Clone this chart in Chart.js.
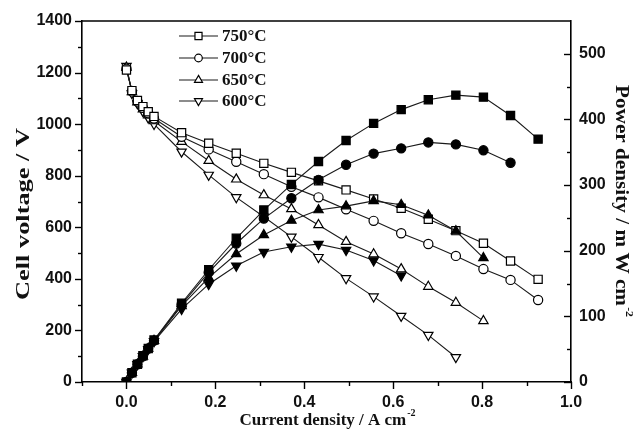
<!DOCTYPE html>
<html>
<head>
<meta charset="utf-8">
<script src="https://cdn.jsdelivr.net/npm/chart.js@4.4.1/dist/chart.umd.min.js"></script>
<style>
  html, body { margin: 0; padding: 0; background: #ffffff; }
  #wrap { width: 638px; height: 434px; position: relative; }
</style>
</head>
<body>
<div id="wrap"><canvas id="c" width="638" height="434"></canvas></div>
<script>
// ---- Data ----
const currentDensity = [0, 0.0123, 0.0247, 0.037, 0.049, 0.062, 0.124, 0.185, 0.247, 0.309, 0.371, 0.432, 0.494, 0.556, 0.618, 0.679, 0.741, 0.803, 0.864, 0.926];

const legendLabels = ['750°C', '700°C', '650°C', '600°C'];

const voltage750 = [1210, 1130, 1092, 1068, 1048, 1030, 967, 926, 887, 848, 813, 780, 745, 710, 674, 631, 587, 538, 469, 398];
const voltage700 = [1215, 1127, 1088, 1063, 1042, 1022, 951, 902, 854, 806, 757, 716, 670, 625, 577, 535, 489, 438, 396, 318];
const voltage650 = [1220, 1125, 1085, 1058, 1035, 1012, 932, 858, 786, 725, 671, 609, 544, 496, 438, 370, 308, 237];
const voltage600 = [1225, 1120, 1080, 1050, 1025, 1000, 893, 803, 716, 641, 563, 484, 402, 331, 256, 182, 96];

const power750 = [0, 14, 27, 40, 51, 64, 120, 171, 219, 262, 301, 336, 368, 394, 415, 430, 437, 434, 406, 370];
const power700 = [0, 14, 27, 39, 51, 63, 118, 167, 211, 249, 280, 308, 331, 348, 356, 365, 362, 353, 334];
const power650 = [0, 14, 27, 39, 51, 63, 116, 159, 195, 224, 246, 262, 268, 276, 270, 254, 230, 189];
const power600 = [0, 14, 27, 39, 50, 62, 111, 149, 177, 198, 206, 210, 201, 185, 162];

const xTitle = 'Current density / A cm';
const yTitle = 'Cell voltage / V';
const y2Title = 'Power density / m W cm';
const unitSup = '-2';

// ---- helpers ----
function pts(ys) { return ys.map((v, i) => ({ x: currentDensity[i], y: v })); }

const markerDefs = [
  { style: 'rect', radius: 5.8, rotation: 0 },
  { style: 'circle', radius: 4.6, rotation: 0 },
  { style: 'triangle', radius: 5.4, rotation: 0 },
  { style: 'triangle', radius: 5.4, rotation: 180 }
];

const LINE = '#1a1a1a';

function mkSet(label, data, m, filled, axis) {
  return {
    label: label,
    data: pts(data),
    yAxisID: axis,
    borderColor: LINE,
    borderWidth: 1.1,
    pointStyle: m.style,
    pointRadius: m.radius,
    pointHoverRadius: m.radius,
    pointRotation: m.rotation,
    pointBackgroundColor: filled ? '#000000' : '#ffffff',
    pointBorderColor: '#000000',
    pointBorderWidth: 1.2,
    fill: false,
    tension: 0,
    order: filled ? 0 : 1
  };
}

const datasets = [
  mkSet(legendLabels[0], voltage750, markerDefs[0], false, 'y'),
  mkSet(legendLabels[1], voltage700, markerDefs[1], false, 'y'),
  mkSet(legendLabels[2], voltage650, markerDefs[2], false, 'y'),
  mkSet(legendLabels[3], voltage600, markerDefs[3], false, 'y'),
  mkSet(legendLabels[0] + ' P', power750, markerDefs[0], true, 'y2'),
  mkSet(legendLabels[1] + ' P', power700, markerDefs[1], true, 'y2'),
  mkSet(legendLabels[2] + ' P', power650, markerDefs[2], true, 'y2'),
  mkSet(legendLabels[3] + ' P', power600, markerDefs[3], true, 'y2')
];

const TICK_FONT = { family: '"Liberation Sans", Arial, sans-serif', size: 16, weight: 'bold' };
const TITLE_FONT = 'bold 17px "Liberation Serif", "Times New Roman", serif';
const SIDE_FONT = 'bold 18px "Liberation Serif", "Times New Roman", serif';
const SUP_FONT = 'bold 10px "Liberation Serif", "Times New Roman", serif';

// Frame, tick marks, legend and axis titles
const decorPlugin = {
  id: 'decor',
  afterDraw(chart) {
    const ctx = chart.ctx;
    const a = chart.chartArea;
    const sx = chart.scales.x, sy = chart.scales.y, sy2 = chart.scales.y2;
    ctx.save();
    ctx.strokeStyle = '#000';
    ctx.lineWidth = 1.6;
    // top border
    ctx.beginPath();
    ctx.moveTo(a.left, a.top); ctx.lineTo(a.right, a.top);
    ctx.stroke();
    ctx.lineWidth = 1.4;
    // left ticks (outward)
    sy.ticks.forEach(t => {
      const y = Math.round(sy.getPixelForValue(t.value)) + 0.5;
      const len = (Math.round(t.value) % 200 === 0) ? 7 : 4;
      ctx.beginPath(); ctx.moveTo(a.left - len, y); ctx.lineTo(a.left, y); ctx.stroke();
    });
    // right ticks (inward)
    sy2.ticks.forEach(t => {
      if (t.value >= 550) return;
      const y = Math.round(sy2.getPixelForValue(t.value)) + 0.5;
      const len = (Math.round(t.value) % 100 === 0) ? 7 : 4;
      ctx.beginPath(); ctx.moveTo(a.right - len, y); ctx.lineTo(a.right, y); ctx.stroke();
    });
    // bottom ticks (outward)
    sx.ticks.forEach(t => {
      const x = Math.round(sx.getPixelForValue(t.value)) + 0.5;
      const k = Math.round(t.value * 10);
      const len = (k % 2 === 0) ? 7 : 4;
      ctx.beginPath(); ctx.moveTo(x, a.bottom); ctx.lineTo(x, a.bottom + len); ctx.stroke();
    });

    // legend
    const lx0 = 179, lx1 = 218, mx = 198.5, tx = 222;
    const ly = [36, 58, 80, 101];
    ctx.textBaseline = 'middle';
    ctx.textAlign = 'left';
    legendLabels.forEach((lab, i) => {
      const y = ly[i];
      ctx.strokeStyle = LINE; ctx.lineWidth = 1.1;
      ctx.beginPath(); ctx.moveTo(lx0, y); ctx.lineTo(lx1, y); ctx.stroke();
      ctx.fillStyle = '#ffffff'; ctx.strokeStyle = '#000'; ctx.lineWidth = 1.2;
      const m = markerDefs[i];
      Chart.helpers.drawPoint(ctx, { pointStyle: m.style, radius: m.radius - 0.8, rotation: m.rotation, borderWidth: 1.2 }, mx, y);
      ctx.fillStyle = '#111';
      ctx.font = TITLE_FONT;
      ctx.fillText(lab, tx, y + 1);
    });

    // bottom title with superscript
    ctx.fillStyle = '#111';
    ctx.font = TITLE_FONT;
    ctx.textBaseline = 'alphabetic';
    const wMain = ctx.measureText(xTitle).width;
    ctx.font = SUP_FONT;
    const wSup = ctx.measureText(unitSup).width;
    let bx = 327 - (wMain + wSup) / 2;
    ctx.font = TITLE_FONT;
    ctx.fillText(xTitle, bx, 425);
    ctx.font = SUP_FONT;
    ctx.fillText(unitSup, bx + wMain + 1, 416);

    // left title (rotated -90), stretched along its length like the reference
    ctx.save();
    ctx.translate(29, 214);
    ctx.rotate(-Math.PI / 2);
    ctx.font = SIDE_FONT;
    const wl = ctx.measureText(yTitle).width;
    ctx.scale(172 / wl, 1);
    ctx.textAlign = 'center';
    ctx.fillText(yTitle, 0, 0);
    ctx.restore();

    // right title (rotated +90)
    ctx.save();
    ctx.translate(616, 201);
    ctx.rotate(Math.PI / 2);
    ctx.font = SIDE_FONT;
    const w2 = ctx.measureText(y2Title).width;
    ctx.font = SUP_FONT;
    const w2s = ctx.measureText(unitSup).width;
    const tot = w2 + w2s + 1;
    ctx.scale(232 / tot, 1);
    const sx0 = -tot / 2;
    ctx.textAlign = 'left';
    ctx.font = SIDE_FONT;
    ctx.fillText(y2Title, sx0, 0);
    ctx.font = SUP_FONT;
    ctx.fillText(unitSup, sx0 + w2 + 1, -10);
    ctx.restore();

    ctx.restore();
  }
};

new Chart(document.getElementById('c'), {
  type: 'line',
  data: { datasets: datasets },
  options: {
    responsive: false,
    animation: false,
    events: [],
    layout: { padding: { top: 21, left: 0, right: 0, bottom: 0 } },
    plugins: { legend: { display: false }, tooltip: { enabled: false } },
    scales: {
      x: {
        type: 'linear',
        min: -0.1, max: 1.0,
        afterFit(s) { s.height = 52; },
        afterBuildTicks(s) {
          const t = [];
          for (let k = -1; k <= 10; k++) t.push({ value: k / 10 });
          s.ticks = t;
        },
        ticks: {
          color: '#111', font: TICK_FONT, padding: 11, maxRotation: 0, autoSkip: false,
          callback(v) { const k = Math.round(v * 10); return (k >= 0 && k % 2 === 0) ? (k / 10).toFixed(1) : ''; }
        },
        grid: { display: true, drawOnChartArea: false, drawTicks: false },
        border: { display: true, color: '#000', width: 1.6 }
      },
      y: {
        type: 'linear', position: 'left',
        min: 0, max: 1400,
        afterFit(s) { s.width = 82; },
        afterBuildTicks(s) {
          const t = [];
          for (let v = 0; v <= 1400; v += 100) t.push({ value: v });
          s.ticks = t;
        },
        ticks: {
          color: '#111', font: TICK_FONT, padding: 10, autoSkip: false,
          callback(v) { return (Math.round(v) % 200 === 0) ? String(Math.round(v)) : ''; }
        },
        grid: { display: true, drawOnChartArea: false, drawTicks: false },
        border: { display: true, color: '#000', width: 1.6 }
      },
      y2: {
        type: 'linear', position: 'right',
        min: 0, max: 550,
        afterFit(s) { s.width = 67; },
        afterBuildTicks(s) {
          const t = [];
          for (let v = 0; v <= 550; v += 50) t.push({ value: v });
          s.ticks = t;
        },
        ticks: {
          color: '#111', font: TICK_FONT, padding: 8, autoSkip: false,
          callback(v) { const r = Math.round(v); return (r % 100 === 0 && r <= 500) ? String(r) : ''; }
        },
        grid: { display: true, drawOnChartArea: false, drawTicks: false },
        border: { display: true, color: '#000', width: 1.6 }
      }
    }
  },
  plugins: [decorPlugin]
});
</script>
</body>
</html>
